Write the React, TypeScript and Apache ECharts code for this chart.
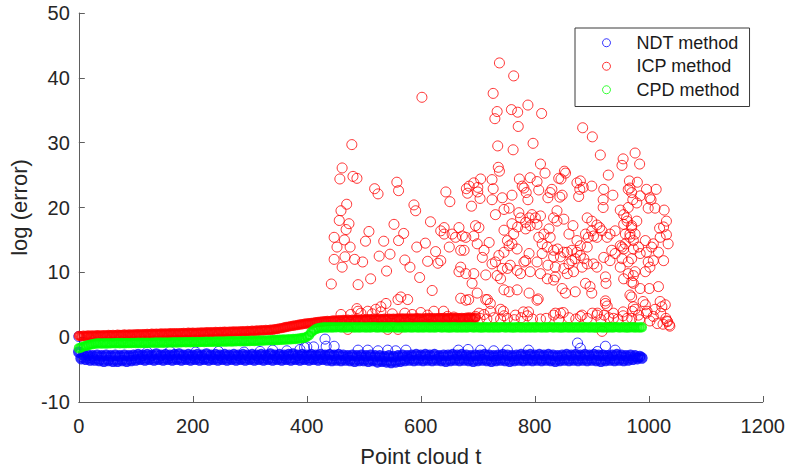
import React, { useEffect, useRef } from "react";
import * as echarts from "echarts";

// Point cloud index step used for the dense bands
const STEP = 4;

const xTicks = [0, 200, 400, 600, 800, 1000, 1200];
const yTicks = [-10, 0, 10, 20, 30, 40, 50];
const seriesNames = ["NDT method", "ICP method", "CPD method"];

// NDT method, log(error) per point cloud (t = 0, 4, 8, ...), dense band
const ndtY = [
  -2.3, -3.3, -2.7, -3.4, -2.8, -3.5, -2.9, -3.5, -2.8, -3.6, -2.9, -3.7, -2.8, -3.6, -2.9, -3.7, -2.8, -3.7, -2.9, -3.6, -2.8, -3.7, -2.9, -3.6, -2.8,
  -3.5, -2.7, -3.4, -2.8, -3.5, -2.7, -3.4, -2.8, -3.5, -2.6, -3.4, -2.8, -3.5, -2.7, -3.4, -2.8, -3.5, -2.7, -3.4, -2.6, -3.5, -2.8, -3.4, -2.7, -3.5,
  -2.8, -3.4, -2.7, -3.5, -2.8, -3.4, -2.6, -3.5, -2.8, -3.4, -2.7, -3.5, -2.8, -3.4, -2.7, -3.5, -2.8, -3.4, -2.7, -3.5, -2.8, -3.4, -2.7, -3.5, -2.8,
  -3.4, -2.7, -3.5, -2.8, -3.4, -2.7, -3.5, -2.8, -3.4, -2.6, -3.5, -2.8, -3.4, -2.7, -3.5, -2.8, -3.4, -2.7, -3.5, -2.6, -3.4, -2.8, -3.5, -2.7, -3.4,
  -2.8, -3.5, -2.7, -3.4, -2.8, -3.5, -2.7, -3.4, -2.8, -3.5, -2.7, -3.6, -2.8, -3.5, -2.7, -3.6, -2.8, -3.5, -2.9, -3.6, -2.8, -3.7, -2.9, -3.6, -2.8,
  -3.6, -2.9, -3.7, -2.8, -3.6, -2.9, -3.8, -2.9, -3.7, -3.0, -3.8, -2.9, -3.9, -3.0, -3.8, -2.9, -3.7, -2.8, -3.6, -2.9, -3.5, -2.8, -3.6, -2.7, -3.5,
  -2.8, -3.6, -2.7, -3.5, -2.8, -3.6, -2.7, -3.5, -2.9, -3.6, -2.8, -3.7, -2.8, -3.6, -2.7, -3.5, -2.8, -3.6, -2.7, -3.5, -2.8, -3.6, -2.9, -3.7, -2.8,
  -3.6, -2.8, -3.5, -2.7, -3.6, -2.8, -3.7, -2.9, -3.6, -2.8, -3.5, -2.7, -3.6, -2.8, -3.7, -2.9, -3.6, -2.8, -3.5, -2.7, -3.6, -2.8, -3.5, -2.7, -3.6,
  -2.8, -3.5, -2.7, -3.6, -2.8, -3.5, -2.7, -3.6, -2.8, -3.7, -2.9, -3.6, -2.8, -3.5, -2.7, -3.6, -2.8, -3.5, -2.7, -3.6, -2.8, -3.5, -2.7, -3.6, -2.8,
  -3.5, -2.7, -3.6, -2.8, -3.7, -2.8, -3.6, -2.9, -3.5, -2.8, -3.6, -2.7, -3.5, -2.8, -3.6, -2.9, -3.5, -2.8, -3.4, -2.9, -3.3, -3.0, -3.2,
];

// NDT method, frames off the band [t, log(error)]
const ndtScatter: [number, number][] = [
  [0, 0.1], [120, -2.3], [160, -2.2], [205, -2.3], [245, -2.2], [290, -2.3], [318, -2.2], [340, -2.0], [365, -2.1],
  [388, -1.9], [396, -1.6], [400, -1.5], [412, -1.5], [432, -0.3], [434, -1.4], [448, -1.4],
  [490, -2.0], [507, -2.0], [525, -2.1], [542, -2.0], [556, -2.1], [574, -2.0], [666, -2.0], [683, -1.9], [705, -2.0],
  [728, -2.1], [752, -2.0], [789, -2.0], [875, -0.9], [880, -1.7], [910, -2.2], [924, -1.4], [941, -2.0],
];

// CPD method, log(error) per point cloud (t = 0, 4, 8, ...)
const cpdY = [
  -1.7, -1.6, -1.45, -1.35, -1.25, -1.15, -1.08, -1.0, -0.97, -0.95, -1.0, -0.94, -0.97, -0.93, -0.96, -0.92, -0.95, -0.9, -0.94, -0.91, -0.93, -0.89, -0.92, -0.9, -0.88,
  -0.91, -0.87, -0.9, -0.86, -0.89, -0.85, -0.88, -0.84, -0.87, -0.83, -0.86, -0.82, -0.85, -0.81, -0.84, -0.8, -0.83, -0.79, -0.82, -0.78, -0.8, -0.77, -0.79, -0.76, -0.78,
  -0.75, -0.77, -0.74, -0.76, -0.72, -0.75, -0.71, -0.73, -0.7, -0.72, -0.68, -0.71, -0.67, -0.69, -0.66, -0.68, -0.64, -0.66, -0.62, -0.65, -0.61, -0.63, -0.6, -0.62, -0.58,
  -0.6, -0.56, -0.58, -0.54, -0.55, -0.51, -0.53, -0.49, -0.5, -0.46, -0.47, -0.43, -0.44, -0.4, -0.41, -0.37, -0.38, -0.33, -0.34, -0.29, -0.28, -0.22, -0.2, -0.14, -0.1,
  0.05, 0.3, 0.75, 1.05, 1.25, 1.38, 1.45, 1.48, 1.52, 1.5, 1.54, 1.49, 1.53, 1.51, 1.55, 1.5, 1.53, 1.49, 1.54, 1.51, 1.52, 1.48, 1.53, 1.5, 1.54,
  1.51, 1.49, 1.53, 1.5, 1.55, 1.52, 1.48, 1.51, 1.54, 1.5, 1.53, 1.49, 1.52, 1.55, 1.5, 1.51, 1.48, 1.53, 1.5, 1.54, 1.52, 1.49, 1.51, 1.53, 1.5,
  1.52, 1.49, 1.54, 1.51, 1.48, 1.53, 1.5, 1.52, 1.55, 1.49, 1.51, 1.53, 1.5, 1.48, 1.52, 1.54, 1.5, 1.51, 1.49, 1.53, 1.5, 1.52, 1.55, 1.49, 1.51,
  1.53, 1.5, 1.48, 1.52, 1.54, 1.5, 1.51, 1.49, 1.53, 1.5, 1.52, 1.55, 1.49, 1.51, 1.53, 1.5, 1.48, 1.52, 1.54, 1.5, 1.51, 1.49, 1.53, 1.5, 1.52,
  1.49, 1.54, 1.51, 1.48, 1.53, 1.5, 1.52, 1.55, 1.49, 1.51, 1.53, 1.5, 1.48, 1.52, 1.54, 1.5, 1.51, 1.49, 1.53, 1.5, 1.52, 1.49, 1.54, 1.51, 1.5,
  1.53, 1.5, 1.48, 1.52, 1.54, 1.5, 1.51, 1.49, 1.53, 1.5, 1.52, 1.55, 1.49, 1.51, 1.53, 1.5, 1.48, 1.52, 1.54, 1.5, 1.51, 1.49, 1.52,
];

// ICP method, converged band (t = 0, 4, 8, ... 696)
const icpBandY = [
  0.2, 0.15, 0.23, 0.18, 0.25, 0.21, 0.27, 0.22, 0.3, 0.26, 0.28, 0.32, 0.27, 0.33, 0.3, 0.35, 0.31, 0.37, 0.33, 0.36, 0.4, 0.35, 0.41, 0.38, 0.43,
  0.4, 0.45, 0.42, 0.47, 0.44, 0.5, 0.46, 0.52, 0.48, 0.53, 0.5, 0.56, 0.52, 0.57, 0.55, 0.6, 0.56, 0.62, 0.58, 0.63, 0.6, 0.66, 0.62, 0.67, 0.65,
  0.68, 0.64, 0.7, 0.67, 0.73, 0.7, 0.75, 0.72, 0.78, 0.74, 0.8, 0.77, 0.82, 0.79, 0.84, 0.81, 0.86, 0.83, 0.88, 0.85, 0.9, 0.87, 0.92, 0.9, 0.95,
  0.93, 0.98, 0.96, 1.02, 1.0, 1.06, 1.04, 1.1, 1.08, 1.15, 1.14, 1.22, 1.25, 1.35, 1.4, 1.5, 1.56, 1.62, 1.7, 1.75, 1.82, 1.88, 1.95, 2.0, 2.06,
  2.1, 2.15, 2.2, 2.24, 2.3, 2.33, 2.38, 2.42, 2.45, 2.5, 2.48, 2.55, 2.58, 2.54, 2.62, 2.58, 2.65, 2.6, 2.68, 2.63, 2.7, 2.66, 2.72, 2.68, 2.75,
  2.7, 2.76, 2.72, 2.78, 2.74, 2.8, 2.75, 2.82, 2.77, 2.83, 2.78, 2.85, 2.8, 2.86, 2.82, 2.88, 2.83, 2.9, 2.85, 2.88, 2.84, 2.9, 2.86, 2.92, 2.87,
  2.9, 2.86, 2.93, 2.88, 2.95, 2.9, 2.94, 2.89, 2.96, 2.91, 2.95, 2.9, 2.97, 2.92, 2.96, 2.91, 2.98, 2.93, 2.97, 2.92, 2.99, 2.94, 2.98, 2.93, 3.0,
];

// ICP method, diverged frames [t, log(error)]
const icpScatter: [number, number][] = [
  [443, 8.2], [448, 15.4], [453, 13.9], [448, 12.0], [457, 18.0], [460, 19.5], [458, 24.4], [462, 26.1], [469, 16.6], [476, 13.9],
  [467, 12.4], [462, 10.8], [479, 29.7], [481, 24.8], [488, 24.5], [490, 8.1], [498, 11.6], [503, 14.8], [509, 16.3], [519, 22.9],
  [525, 22.1], [527, 12.5], [530, 4.7], [535, 14.8], [540, 10.2], [553, 17.4], [558, 23.9], [561, 22.6], [561, 14.9], [565, 6.2],
  [572, 11.9], [581, 10.8], [588, 20.4], [591, 19.5], [593, 13.9], [602, 37.0], [612, 11.7], [617, 17.8], [630, 11.4],
  [539, 5.2], [560, 5.8], [577, 5.8], [521, 4.3], [507, 4.0], [495, 3.7], [490, 4.0], [477, 3.5], [572, 3.7], [623, 4.0],
  [640, 4.0], [560, 1.2], [542, 1.2], [472, 1.2], [488, 4.4], [466, 15.0], [474, 17.5], [470, 20.5], [484, 12.0], [512, 9.0],
  [546, 12.8], [570, 16.0], [598, 9.2], [608, 14.5], [620, 7.2], [626, 13.2], [550, 3.6], [600, 3.8], [612, 3.4], [585, 3.5],
  [530, 3.9], [515, 3.6], [460, 3.5],
  [738, 42.3], [763, 40.3], [727, 37.6], [734, 34.8], [730, 33.7], [759, 35.1], [770, 34.7], [788, 35.8], [812, 34.5], [771, 32.5],
  [884, 32.3], [901, 30.9],
  [735, 29.5], [762, 28.9], [797, 29.9], [915, 28.1], [976, 28.4], [955, 27.5], [953, 26.5], [810, 26.7], [736, 26.2], [738, 25.6],
  [818, 25.3], [852, 25.6], [846, 24.4], [929, 25.0], [966, 24.1], [980, 23.9], [644, 22.4], [651, 20.9], [680, 22.9], [685, 23.3],
  [682, 22.2], [700, 23.1], [705, 24.4], [693, 23.8], [700, 22.4], [704, 21.4], [689, 20.2], [725, 24.3], [727, 22.9], [725, 21.2],
  [743, 21.5], [760, 21.9], [773, 24.4], [792, 24.6], [781, 23.0], [785, 22.3], [788, 21.2], [778, 23.3], [807, 22.7], [804, 24.0],
  [823, 21.5], [827, 22.3], [830, 22.8], [844, 21.6], [848, 21.9], [842, 24.5], [854, 25.3], [874, 23.8], [880, 24.1], [879, 22.8],
  [877, 21.7], [885, 23.1], [900, 23.3], [921, 22.8], [920, 21.2], [920, 20.0], [937, 21.9], [950, 19.6], [967, 23.0], [970, 22.3],
  [964, 20.0], [972, 21.2],
  [892, 18.4], [900, 17.9], [909, 17.3], [914, 16.9], [918, 16.4], [900, 16.4], [903, 15.6], [909, 15.4], [894, 15.4], [889, 15.9],
  [892, 13.9], [880, 14.1], [867, 17.2], [874, 14.9], [860, 15.9], [839, 19.5], [851, 18.2], [833, 18.4], [839, 17.9], [810, 18.7],
  [801, 18.4], [795, 18.9], [804, 17.4], [790, 18.4], [784, 17.7], [775, 18.4], [770, 17.0], [784, 16.7], [792, 17.2], [760, 17.5],
  [772, 19.2], [746, 19.7], [755, 19.9], [731, 18.9], [746, 16.5], [763, 15.9], [816, 15.9], [807, 15.4], [813, 14.4], [825, 16.7],
  [827, 15.4], [822, 13.9], [833, 13.4], [840, 13.6], [851, 13.1], [833, 12.4], [845, 12.4], [857, 13.1], [865, 13.4], [874, 13.1],
  [880, 12.6], [871, 12.1], [886, 12.1], [892, 11.3], [883, 10.8], [860, 11.3], [865, 11.8], [851, 10.6], [857, 9.8], [868, 10.1],
  [836, 10.8], [823, 11.1], [813, 12.9], [804, 11.6], [790, 12.9], [781, 11.6], [769, 13.6], [760, 14.4], [752, 14.9], [755, 14.1],
  [746, 13.1], [737, 12.6], [731, 11.6], [743, 10.6], [725, 11.3], [734, 9.5], [740, 9.0], [752, 10.6], [757, 11.1], [769, 10.3],
  [775, 9.8], [792, 10.1], [810, 9.8], [822, 9.0], [833, 8.8], [784, 11.8], [714, 9.6], [693, 9.8], [708, 12.3], [711, 13.4],
  [699, 14.4], [693, 15.6], [702, 16.9], [696, 17.2], [720, 14.6], [679, 15.4], [673, 15.6], [667, 16.9], [676, 13.4], [670, 13.4],
  [661, 15.4], [655, 15.9], [641, 16.9], [641, 15.9], [635, 16.4], [650, 13.9], [635, 11.8], [670, 10.8], [667, 10.1], [679, 9.8],
  [690, 8.3], [746, 7.3], [755, 7.0], [769, 7.3], [679, 5.7], [670, 6.0], [699, 6.8], [717, 5.8], [790, 6.8], [804, 5.7],
  [836, 9.3], [848, 7.5], [854, 6.8], [871, 7.0], [889, 8.3], [897, 7.8], [900, 6.8], [924, 9.3], [925, 8.3], [903, 11.3],
  [909, 10.8], [921, 12.3], [932, 11.8], [935, 13.4], [941, 12.9], [927, 15.4], [932, 15.9], [950, 14.1], [956, 13.6], [959, 15.9],
  [967, 15.4], [973, 14.9], [962, 17.9], [970, 17.2], [979, 17.9], [956, 18.9], [941, 16.4], [950, 10.8], [964, 9.8], [973, 8.3],
  [970, 6.2], [924, 5.2],
  [984, 26.7], [964, 22.8], [996, 22.8], [1013, 22.8], [1002, 21.5], [1004, 21.2], [985, 21.8], [979, 20.7], [999, 19.9], [1011, 19.9],
  [1027, 19.6], [1031, 17.9], [961, 18.4], [956, 17.4], [970, 16.9], [976, 15.9], [967, 15.9], [1019, 16.8], [1026, 17.0], [1020, 15.4],
  [1031, 15.8], [1034, 14.4], [1008, 14.4], [1005, 13.9], [994, 14.9], [982, 13.9], [973, 13.6], [959, 14.4], [953, 13.9], [985, 12.9],
  [996, 13.1], [1017, 13.1], [1026, 11.8], [999, 11.6], [1008, 11.8], [1002, 10.8], [970, 12.1], [964, 11.6], [953, 12.1], [976, 10.1],
  [973, 9.5], [994, 10.1], [956, 9.0], [970, 8.5], [985, 7.5], [1001, 7.5], [1017, 7.8], [967, 6.5], [1020, 5.5], [1029, 5.0],
  [973, 4.7], [994, 5.0],
  [1021, 3.7], [1030, 2.9], [1036, 1.9], [1033, 2.4], [1008, 3.2], [996, 3.7], [982, 3.4], [971, 4.0], [955, 3.3], [938, 3.7],
  [922, 3.4], [883, 3.4], [845, 3.7], [836, 3.7], [647, 3.2], [658, 3.1], [685, 3.0], [696, 3.2], [702, 3.7], [711, 3.5],
  [722, 4.0], [746, 3.3], [766, 3.4], [787, 3.3], [810, 2.8], [833, 3.4], [880, 3.2], [909, 3.4], [938, 2.9], [970, 2.9],
  [684, 5.8], [714, 5.8], [722, 5.2], [740, 4.3], [745, 4.0], [806, 5.9], [780, 3.9], [789, 3.9], [850, 3.8], [901, 3.7],
  [910, 3.7], [924, 5.6], [927, 4.8], [955, 3.9], [976, 4.3], [990, 5.5], [918, 0.9],
  [1023, 4.7], [1011, 4.3], [997, 4.0], [1032, 2.5], [1037, 1.7], [1025, 2.0], [1015, 2.1], [1002, 2.5],
  [704, 2.9], [716, 2.8], [728, 3.0], [740, 2.8], [752, 2.9], [764, 2.7], [776, 3.0], [796, 2.8], [820, 2.9], [842, 2.7],
  [860, 3.0], [872, 2.8], [892, 2.9], [916, 2.7], [930, 3.0], [946, 2.8], [962, 2.9], [984, 2.7],
];

const FONT = "'Liberation Sans', Arial, Helvetica, sans-serif";
const AXIS_COLOR = "#5e5e5e";
const TEXT_COLOR = "#262626";

export default function App() {
  const ref = useRef<HTMLDivElement>(null);

  useEffect(() => {
    if (!ref.current) return;
    const chart = echarts.init(ref.current, null, { renderer: "svg" });

    // Dense bands: ~1000 overlapping rings in the original, drawn here with heavier rings
    const band = (ys: number[], width: number) =>
      ys.map((y, i) => ({
        value: [i * STEP, y],
        symbolSize: 8,
        itemStyle: { borderWidth: width },
      }));

    const ring = (color: string) => ({
      color: "rgba(0,0,0,0)",
      borderColor: color,
      borderWidth: 1,
    });

    const axisCommon = {
      type: "value" as const,
      axisLine: { show: true, onZero: false, lineStyle: { color: AXIS_COLOR, width: 1 } },
      axisTick: { show: true, inside: true, length: 6, lineStyle: { color: AXIS_COLOR, width: 1 } },
      splitLine: { show: false },
      nameLocation: "middle" as const,
      nameTextStyle: { fontSize: 22, color: TEXT_COLOR, fontFamily: FONT },
    };

    chart.setOption({
      animation: false,
      backgroundColor: "#ffffff",
      textStyle: { fontFamily: FONT },
      grid: { left: 77, right: 25, top: 13, bottom: 65 },
      xAxis: {
        ...axisCommon,
        min: xTicks[0],
        max: xTicks[xTicks.length - 1],
        interval: xTicks[1] - xTicks[0],
        axisLabel: {
          fontSize: 20,
          color: TEXT_COLOR,
          margin: 14,
          fontFamily: FONT,
          formatter: (v: number) => String(v),
        },
        name: "Point cloud t",
        nameGap: 43,
      },
      yAxis: {
        ...axisCommon,
        min: yTicks[0],
        max: yTicks[yTicks.length - 1],
        interval: yTicks[1] - yTicks[0],
        axisLabel: {
          fontSize: 20,
          color: TEXT_COLOR,
          margin: 9,
          fontFamily: FONT,
          formatter: (v: number) => String(v),
        },
        name: "log (error)",
        nameRotate: 90,
        nameGap: 45,
      },
      legend: {
        orient: "vertical",
        left: 575,
        top: 28,
        padding: [3, 10, 5, 27],
        itemWidth: 50,
        itemHeight: 8,
        itemGap: 0,
        itemStyle: { borderWidth: 1 },
        backgroundColor: "#ffffff",
        borderColor: "#3a3a3a",
        borderWidth: 1,
        textStyle: { fontSize: 18, color: "#1a1a1a", lineHeight: 23.5, fontFamily: FONT },
        data: seriesNames,
      },
      series: [
        {
          name: seriesNames[0],
          type: "scatter",
          symbol: "circle",
          symbolSize: 10,
          silent: true,
          itemStyle: ring("#0000ff"),
          data: [...band(ndtY, 3.6), ...ndtScatter],
        },
        {
          name: seriesNames[1],
          type: "scatter",
          symbol: "circle",
          symbolSize: 10,
          silent: true,
          itemStyle: ring("#ff0000"),
          data: [...band(icpBandY, 2.3), ...icpScatter],
        },
        {
          name: seriesNames[2],
          type: "scatter",
          symbol: "circle",
          symbolSize: 10,
          silent: true,
          itemStyle: ring("#00ff00"),
          data: band(cpdY, 2.3),
        },
      ],
    });

    return () => chart.dispose();
  }, []);

  return (
    <div
      ref={ref}
      style={{ position: "fixed", left: 0, top: 0, width: 788, height: 472, background: "#fff" }}
    />
  );
}
